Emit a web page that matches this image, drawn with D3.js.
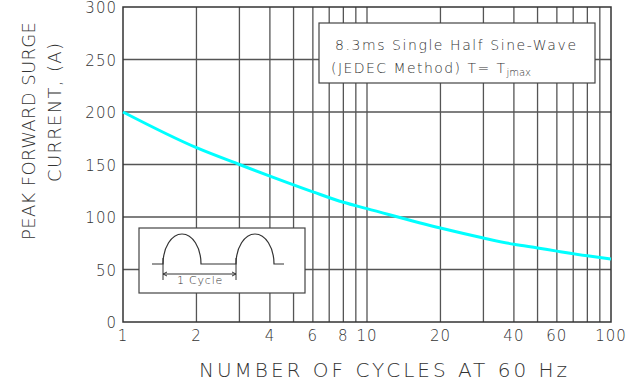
<!DOCTYPE html>
<html>
<head>
<meta charset="utf-8">
<script src="https://cdn.jsdelivr.net/npm/d3@7"></script>
<style>
  body { margin: 0; background: #fff; }
  text { font-family: "DejaVu Sans", sans-serif; font-weight: 200; fill: #333; }
</style>
</head>
<body>
<div id="chart"></div>
<script>
var cycles = [1, 2, 3, 4, 6, 8, 10, 20, 30, 40, 50, 60, 80, 100];
var current = [200, 166, 150, 139, 124, 114, 108, 89.5, 80, 74, 70.5, 67.5, 63, 60];
var xTicks = [1, 2, 4, 6, 8, 10, 20, 40, 60, 100];
var xGrid = [2, 3, 4, 5, 6, 7, 8, 9, 10, 20, 30, 40, 50, 60, 70, 80, 90];
var yTicks = [0, 50, 100, 150, 200, 250, 300];

var width = 634,
    height = 385;

var svg = d3.select("#chart")
    .append("svg")
    .attr("width", width)
    .attr("height", height)

var x = d3.scaleLog().domain([1, 100]).range([123, 611])
var y = d3.scaleLinear().domain([0, 300]).range([322, 7])

// grid
svg.selectAll(".vgrid")
    .data(xGrid)
    .enter().append("line")
    .attr("x1", function(d) { return x(d) })
    .attr("x2", function(d) { return x(d) })
    .attr("y1", y(0))
    .attr("y2", y(300))
    .attr("stroke", "#555")
    .attr("stroke-width", 1.3)

svg.selectAll(".hgrid")
    .data(yTicks.slice(1, -1))
    .enter().append("line")
    .attr("x1", x(1))
    .attr("x2", x(100))
    .attr("y1", function(d) { return y(d) })
    .attr("y2", function(d) { return y(d) })
    .attr("stroke", "#555")
    .attr("stroke-width", 1.3)

svg.append("rect")
    .attr("x", x(1))
    .attr("y", y(300))
    .attr("width", x(100) - x(1))
    .attr("height", y(0) - y(300))
    .attr("fill", "none")
    .attr("stroke", "#333")
    .attr("stroke-width", 1.5)

// curve
var line = d3.line()
    .x(function(d, i) { return x(cycles[i]) })
    .y(function(d) { return y(d) })
    .curve(d3.curveMonotoneX)

svg.append("path")
    .datum(current)
    .attr("d", line)
    .attr("fill", "none")
    .attr("stroke", "#00ffff")
    .attr("stroke-width", 3)

// tick labels
svg.selectAll(".xlab")
    .data(xTicks)
    .enter().append("text")
    .attr("x", function(d) { return x(d) })
    .attr("y", 341)
    .attr("text-anchor", "middle")
    .attr("font-size", 15)
    .attr("letter-spacing", 1)
    .text(function(d) { return d })

svg.selectAll(".ylab")
    .data(yTicks)
    .enter().append("text")
    .attr("x", 117)
    .attr("y", function(d) { return y(d) + 6 })
    .attr("text-anchor", "end")
    .attr("font-size", 15)
    .attr("letter-spacing", 1)
    .text(function(d) { return d })

// axis titles
svg.append("text")
    .attr("x", 199)
    .attr("y", 377)
    .attr("font-size", 20)
    .attr("textLength", 368)
    .attr("lengthAdjust", "spacing")
    .text("NUMBER OF CYCLES AT 60 Hz")

svg.append("text")
    .attr("transform", "translate(35,240) rotate(-90)")
    .attr("font-size", 18)
    .attr("textLength", 218)
    .attr("lengthAdjust", "spacing")
    .text("PEAK FORWARD SURGE")

svg.append("text")
    .attr("transform", "translate(61,182) rotate(-90)")
    .attr("font-size", 18)
    .attr("textLength", 139)
    .attr("lengthAdjust", "spacing")
    .text("CURRENT, (A)")

// annotation box
svg.append("rect")
    .attr("x", 319)
    .attr("y", 23)
    .attr("width", 276)
    .attr("height", 60)
    .attr("fill", "#fff")
    .attr("stroke", "#444")
    .attr("stroke-width", 1.2)

svg.append("text")
    .attr("x", 335)
    .attr("y", 50)
    .attr("font-size", 14)
    .attr("textLength", 241)
    .attr("lengthAdjust", "spacing")
    .text("8.3ms Single Half Sine-Wave")

var t2 = svg.append("text")
    .attr("x", 331)
    .attr("y", 73)
    .attr("font-size", 14)
t2.append("tspan").attr("textLength", 174).attr("lengthAdjust", "spacing").text("(JEDEC Method) T= T")
t2.append("tspan").attr("font-size", 10).attr("dy", 3).text("jmax")

// inset waveform
svg.append("rect")
    .attr("x", 139)
    .attr("y", 228)
    .attr("width", 166)
    .attr("height", 65)
    .attr("fill", "#fff")
    .attr("stroke", "#444")
    .attr("stroke-width", 1.2)

var base = 264
svg.append("path")
    .attr("d", "M152," + base + " L163," + base +
        " A19,30 0 0 1 201," + base + " L236," + base +
        " A19,30 0 0 1 274," + base + " L284," + base)
    .attr("fill", "none")
    .attr("stroke", "#333")
    .attr("stroke-width", 1.2)

svg.append("path")
    .attr("d", "M163,258 L163,280 M236,258 L236,280 M163,274 L236,274 M163,274 l4,-2 M163,274 l4,2 M236,274 l-4,-2 M236,274 l-4,2")
    .attr("fill", "none")
    .attr("stroke", "#333")
    .attr("stroke-width", 1)

svg.append("text")
    .attr("x", 200)
    .attr("y", 284)
    .attr("text-anchor", "middle")
    .attr("font-size", 11)
    .attr("letter-spacing", 0.8)
    .text("1  Cycle")
</script>
</body>
</html>
